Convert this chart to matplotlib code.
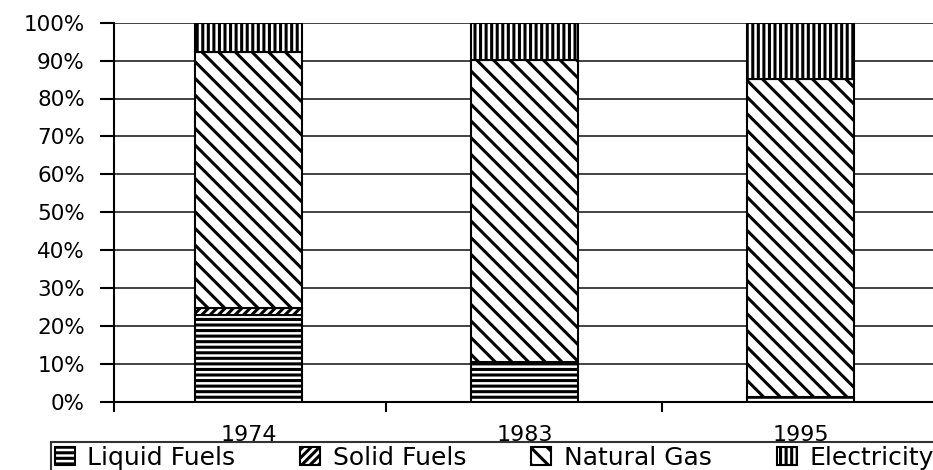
import matplotlib
matplotlib.use("Agg")
from matplotlib import pyplot as plt
from matplotlib.patches import Patch
from matplotlib.ticker import FixedLocator, FuncFormatter

years = ['1974', '1983', '1995']
liquid = [22.9, 10.2, 1.2]
solid = [1.8, 0.3, 0.1]
gas = [67.6, 79.7, 83.8]
elec = [7.7, 9.8, 14.9]

series = [('Liquid Fuels', liquid, '---'),
          ('Solid Fuels', solid, '////'),
          ('Natural Gas', gas, '\\\\'),
          ('Electricity', elec, '|||')]

plt.rcParams['font.family'] = ['DejaVu Sans']
plt.rcParams['hatch.linewidth'] = 2.2
plt.rcParams['hatch.color'] = 'black'

fig = plt.figure(figsize=(9.33, 4.70), dpi=100)
ax = fig.add_axes([114 / 933, (470 - 401.7) / 470, (933 - 114) / 933, 379 / 470])

x = list(range(len(years)))
bottom = [0, 0, 0]
for name, vals, hatch in series:
    ax.bar(x, vals, width=0.388, bottom=bottom, color='white',
           edgecolor='black', linewidth=1.5, hatch=hatch, zorder=3)
    bottom = [b + v for b, v in zip(bottom, vals)]

ax.set_xlim(-0.487, 2.48)
ax.set_ylim(0, 100)
ax.set_yticks(range(0, 101, 10))
ax.yaxis.set_major_formatter(FuncFormatter(lambda v, p: '%d%%' % v))
ax.grid(axis='y', color='#222222', linewidth=1.2, zorder=0)

ax.set_xticks(x)
ax.set_xticklabels(years)
ax.xaxis.set_minor_locator(FixedLocator([-0.487, 0.5, 1.5]))
ax.tick_params(axis='x', which='major', length=0, pad=17, labelsize=16)
ax.tick_params(axis='x', which='minor', length=7, width=1.5, direction='out')
ax.tick_params(axis='y', length=10, width=1.5, pad=11, labelsize=15.5)

for side in ['top', 'right']:
    ax.spines[side].set_visible(False)
ax.spines['left'].set_linewidth(1.5)
ax.spines['bottom'].set_linewidth(1.5)

handles = [Patch(facecolor='white', edgecolor='black', hatch=h, linewidth=1.5)
           for _, _, h in series]
leg = fig.legend(handles, [s[0] for s in series], ncol=4,
                 loc='upper left', bbox_to_anchor=(51 / 933, 1 - 442 / 470),
                 frameon=True, fancybox=False, edgecolor='black',
                 fontsize=18, handlelength=0.8, handleheight=0.7,
                 handletextpad=0.5, columnspacing=2.6, borderpad=0.15,
                 borderaxespad=0)
leg.get_frame().set_linewidth(1.5)

fig.savefig('out.png', dpi=100)
